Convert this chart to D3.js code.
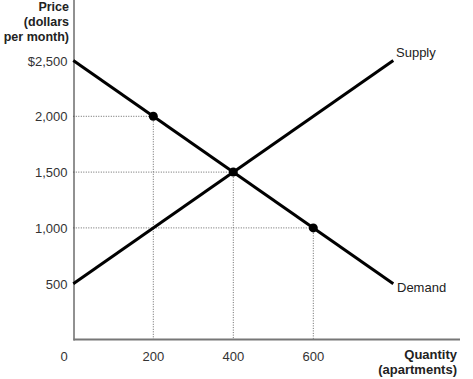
<!DOCTYPE html>
<html>
<head>
<meta charset="utf-8">
<script src="https://cdn.jsdelivr.net/npm/d3@7"></script>
<style>
  body { margin: 0; background: #fff; }
  text { font-family: "Liberation Sans", Arial, Helvetica, sans-serif; }
</style>
</head>
<body>
<div id="chart"></div>
<script>
// 데이터
const priceTicks = [500, 1000, 1500, 2000, 2500];
const priceLabels = ["500", "1,000", "1,500", "2,000", "$2,500"];
const qtyTicks = [0, 200, 400, 600];
const qtyLabels = ["0", "200", "400", "600"];
const supplyQty = [0, 800];
const supplyPrice = [500, 2500];
const demandQty = [0, 800];
const demandPrice = [2500, 500];
const pointQty = [200, 400, 600];
const pointPrice = [2000, 1500, 1000];

const width = 473;
const height = 379;

const svg = d3.select("#chart").append("svg")
    .attr("width", width)
    .attr("height", height);

// 스케일
const x = d3.scaleLinear().domain([0, 800]).range([73.3, 393.3]);
const y = d3.scaleLinear().domain([0, 2500]).range([339.5, 60.5]);

// 점선 가이드
pointQty.forEach((q, i) => {
    const p = pointPrice[i];
    svg.append("line")
        .attr("x1", x(0)).attr("x2", x(q))
        .attr("y1", y(p)).attr("y2", y(p))
        .attr("stroke", "#666").attr("stroke-width", 1)
        .attr("stroke-dasharray", "1,1.5");
    svg.append("line")
        .attr("x1", x(q)).attr("x2", x(q))
        .attr("y1", y(p)).attr("y2", y(0))
        .attr("stroke", "#666").attr("stroke-width", 1)
        .attr("stroke-dasharray", "1,1.5");
});

// 축
svg.append("line")
    .attr("x1", 74).attr("x2", 74)
    .attr("y1", 0).attr("y2", y(0) + 1)
    .attr("stroke", "#222").attr("stroke-width", 1);
svg.append("line")
    .attr("x1", 73.5).attr("x2", 460)
    .attr("y1", y(0)).attr("y2", y(0))
    .attr("stroke", "#777").attr("stroke-width", 2);

// 축 레이블
svg.selectAll(".ytick")
    .data(priceTicks)
    .enter().append("text")
    .attr("class", "ytick")
    .attr("x", 67.5)
    .attr("y", d => y(d) + 5)
    .attr("text-anchor", "end")
    .attr("font-size", 13)
    .attr("fill", "#333")
    .text((d, i) => priceLabels[i]);

svg.selectAll(".xtick")
    .data(qtyTicks)
    .enter().append("text")
    .attr("class", "xtick")
    .attr("x", d => d === 0 ? 64 : x(d))
    .attr("y", 361)
    .attr("text-anchor", "middle")
    .attr("font-size", 13)
    .attr("fill", "#333")
    .text((d, i) => qtyLabels[i]);

// 축 제목
const yTitle = ["Price", "(dollars", "per month)"];
yTitle.forEach((t, i) => {
    svg.append("text")
        .attr("x", 69)
        .attr("y", 11 + i * 15)
        .attr("text-anchor", "end")
        .attr("font-size", 12.5)
        .attr("font-weight", "bold")
        .attr("fill", "#222")
        .text(t);
});
const xTitle = ["Quantity", "(apartments)"];
xTitle.forEach((t, i) => {
    svg.append("text")
        .attr("x", 457)
        .attr("y", 359 + i * 15)
        .attr("text-anchor", "end")
        .attr("font-size", 13)
        .attr("font-weight", "bold")
        .attr("fill", "#222")
        .text(t);
});

// 공급/수요 곡선
const line = d3.line().x(d => x(d[0])).y(d => y(d[1]));
svg.append("path")
    .datum(supplyQty.map((q, i) => [q, supplyPrice[i]]))
    .attr("d", line)
    .attr("fill", "none").attr("stroke", "#000").attr("stroke-width", 3);
svg.append("path")
    .datum(demandQty.map((q, i) => [q, demandPrice[i]]))
    .attr("d", line)
    .attr("fill", "none").attr("stroke", "#000").attr("stroke-width", 3);

// 점
svg.selectAll(".pt")
    .data(pointQty)
    .enter().append("circle")
    .attr("class", "pt")
    .attr("cx", d => x(d))
    .attr("cy", (d, i) => y(pointPrice[i]))
    .attr("r", 4.5)
    .attr("fill", "#000");

// 곡선 레이블
svg.append("text")
    .attr("x", 396).attr("y", 57)
    .attr("font-size", 13)
    .attr("fill", "#222")
    .text("Supply");
svg.append("text")
    .attr("x", 397).attr("y", 292)
    .attr("font-size", 13)
    .attr("fill", "#222")
    .text("Demand");
</script>
</body>
</html>
